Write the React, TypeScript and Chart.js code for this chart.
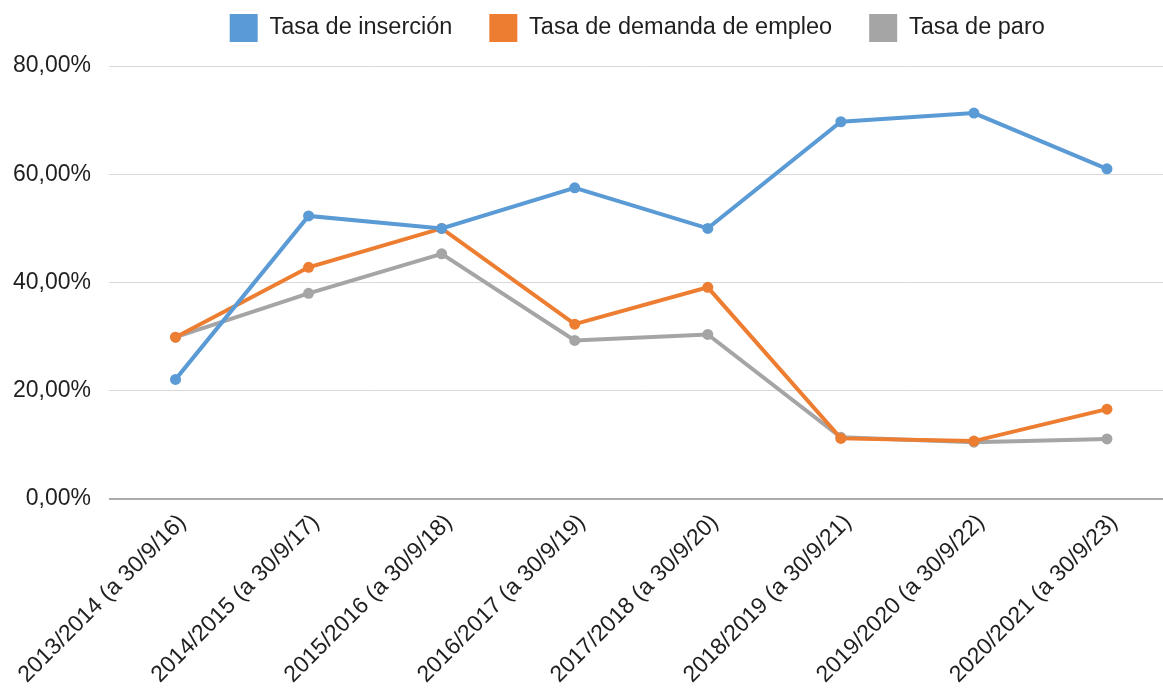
import React, { useEffect, useRef } from "react";
import { Chart, registerables } from "chart.js";

Chart.register(...registerables);

const categories = [
  "2013/2014 (a 30/9/16)",
  "2014/2015 (a 30/9/17)",
  "2015/2016 (a 30/9/18)",
  "2016/2017 (a 30/9/19)",
  "2017/2018 (a 30/9/20)",
  "2018/2019 (a 30/9/21)",
  "2019/2020 (a 30/9/22)",
  "2020/2021 (a 30/9/23)",
];
const tasaInsercion = [22.1, 52.3, 50.0, 57.5, 50.0, 69.7, 71.3, 61.0];
const tasaDemanda = [29.9, 42.8, 50.0, 32.3, 39.1, 11.2, 10.7, 16.6];
const tasaParo = [29.9, 38.0, 45.3, 29.3, 30.4, 11.4, 10.5, 11.1];
const seriesNames = ["Tasa de inserción", "Tasa de demanda de empleo", "Tasa de paro"];
const seriesColors = ["#5B9BD5", "#ED7D31", "#A5A5A5"];
const yTicks = [0, 20, 40, 60, 80];

const FONT = "'Liberation Sans', Arial, sans-serif";
const TEXT = "#1f1f1f";

const layoutTweaks = {
  id: "layoutTweaks",
  beforeUpdate(chart: any) {
    const lg = chart.legend;
    if (lg && !lg.__patched) {
      const orig = lg.fit;
      lg.fit = function () {
        orig.call(this);
        this.height += 14;
      };
      lg.__patched = true;
    }
  },
  beforeLayout(chart: any) {
    const xs = chart.scales && chart.scales.x;
    if (xs && !xs.__patched) {
      xs._calculatePadding = function () {
        this.paddingLeft = 0;
        this.paddingRight = 0;
        this.paddingTop = 0;
        this.paddingBottom = 0;
      };
      xs.__patched = true;
    }
  },
  afterLayout(chart: any) {
    const lg = chart.legend;
    if (lg) {
      lg.left -= 4;
      lg.right -= 4;
    }
  },
};

export default function App() {
  const ref = useRef<HTMLCanvasElement | null>(null);
  useEffect(() => {
    if (!ref.current) return;
    const mk = (label: string, data: number[], color: string) => ({
      label,
      data,
      borderColor: color,
      backgroundColor: color,
      pointBackgroundColor: color,
      pointBorderColor: color,
      borderWidth: 4,
      pointRadius: 5.5,
      pointBorderWidth: 0,
      pointHoverRadius: 5.5,
      tension: 0,
    });
    const chart = new Chart(ref.current, {
      type: "line",
      data: {
        labels: categories,
        datasets: [
          mk(seriesNames[0], tasaInsercion, seriesColors[0]),
          mk(seriesNames[1], tasaDemanda, seriesColors[1]),
          mk(seriesNames[2], tasaParo, seriesColors[2]),
        ],
      },
      plugins: [layoutTweaks],
      options: {
        animation: false,
        responsive: false,
        maintainAspectRatio: false,
        layout: { padding: { top: -23, left: 12, right: 0, bottom: 0 } },
        plugins: {
          tooltip: { enabled: false },
          legend: {
            position: "top",
            fullSize: false,
            labels: {
              boxWidth: 28,
              boxHeight: 28,
              padding: 37,
              color: TEXT,
              font: { family: FONT, size: 23.5 },
              generateLabels: (c: any) =>
                c.data.datasets.map((ds: any, i: number) => ({
                  text: ds.label,
                  fillStyle: seriesColors[i],
                  strokeStyle: seriesColors[i],
                  lineWidth: 0,
                  hidden: false,
                  datasetIndex: i,
                  fontColor: TEXT,
                })),
            },
          },
        },
        scales: {
          x: {
            type: "category",
            offset: true,
            grid: { display: false, drawTicks: false },
            border: { display: false },
            ticks: {
              color: TEXT,
              font: { family: FONT, size: 23 },
              maxRotation: 45,
              minRotation: 45,
              padding: 10,
              labelOffset: 7,
              autoSkip: false,
            },
            afterFit: (scale: any) => {
              scale.height = 189;
              scale.paddingLeft = 0;
              scale.paddingRight = 0;
            },
          },
          y: {
            min: 0,
            max: 80,
            afterBuildTicks: (scale: any) => {
              scale.ticks = yTicks.map((v) => ({ value: v }));
            },
            afterFit: (scale: any) => {
              scale.width = 97;
            },
            grid: {
              drawTicks: false,
              color: (ctx: any) => (ctx.tick && ctx.tick.value === 0 ? "#ABABAB" : "#D9D9D9"),
              lineWidth: (ctx: any) => (ctx.tick && ctx.tick.value === 0 ? 2 : 1),
            },
            border: { display: false },
            ticks: {
              color: TEXT,
              font: { family: FONT, size: 23 },
              padding: 18,
              callback: (v: any) => Number(v).toFixed(2).replace(".", ",") + "%",
            },
          },
        },
      },
    });
    return () => chart.destroy();
  }, []);
  return (
    <div
      style={{
        position: "absolute",
        left: 0,
        top: 0,
        width: 1163,
        height: 688,
        overflow: "hidden",
        background: "#fff",
      }}
    >
      <canvas ref={ref} width={1179} height={688} style={{ display: "block" }} />
    </div>
  );
}
